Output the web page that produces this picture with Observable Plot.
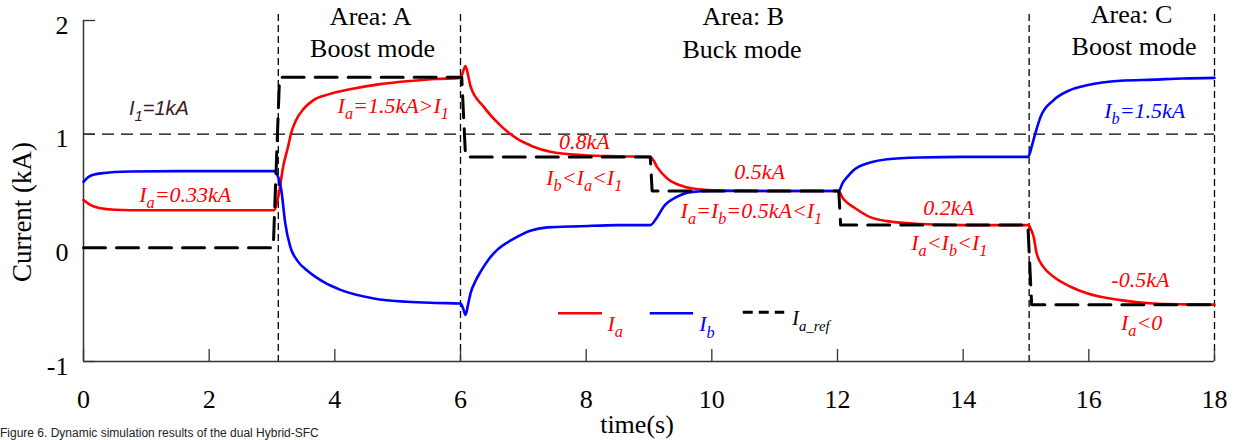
<!DOCTYPE html>
<html><head><meta charset="utf-8">
<script src="https://cdn.jsdelivr.net/npm/d3@7"></script>
<script src="https://cdn.jsdelivr.net/npm/@observablehq/plot@0.6"></script>
<style>
body{margin:0;background:#fff;}
#wrap{position:relative;width:1234px;height:440px;overflow:hidden;}
#cap{position:absolute;left:0;top:427px;font:12px/12px "Liberation Sans",sans-serif;color:#222;white-space:nowrap;}
</style></head><body>
<div id="wrap"><div id="chart"></div><div id="cap">Figure 6. Dynamic simulation results of the dual Hybrid-SFC</div></div>
<script>
// ---- data ----
const iaT = [0,0.1,0.25,0.5,1,2, 3.03,3.1,3.18,3.26,3.3,3.38,3.5,3.66,3.9,4.2, 4.72,5.25,5.6,6.0,6.04,6.08,6.12,6.16,6.37,6.63, 6.9,7.16,7.43,7.96,8.5,9.02,9.07,9.13,9.29,9.55, 9.8,10.08,11,12.02,12.08,12.15,12.25,12.52,12.79,13.32, 14,15.04,15.08,15.12,15.17,15.28,15.44,15.7,15.97,16.5, 17.03,17.5,18];
const iaV = [0.42,0.38,0.35,0.335,0.33,0.33, 0.33,0.45,0.72,0.9,1.0,1.12,1.22,1.3,1.35,1.39, 1.44,1.47,1.485,1.495,1.55,1.6,1.52,1.42,1.24,1.08, 0.96,0.89,0.845,0.815,0.805,0.8,0.77,0.71,0.61,0.54, 0.515,0.505,0.5,0.5,0.44,0.4,0.36,0.27,0.235,0.21, 0.2,0.2,0.16,0.1,-0.05,-0.17,-0.255,-0.34,-0.40,-0.46, -0.49,-0.497,-0.5];
const ibT = [0,0.1,0.27,0.75,1.5, 3.03,3.1,3.15,3.21,3.29, 3.4,3.56,3.82,4.09,4.62, 5.15,5.6,6.0,6.04,6.08, 6.12,6.16,6.24,6.32,6.45, 6.58,6.85,7.11,7.38,7.91, 8.5,9.02,9.13,9.23,9.45, 9.66,10,12.02,12.08,12.15, 12.25,12.52,12.79,13.32,14, 15.03,15.06,15.09,15.15,15.23, 15.44,15.71,15.97,16.5,17.03, 17.5,18];
const ibV = [0.58,0.63,0.655,0.672,0.675, 0.675,0.62,0.5,0.22,0.01, -0.11,-0.2,-0.3,-0.37,-0.445, -0.475,-0.485,-0.49,-0.53,-0.59, -0.5,-0.4,-0.29,-0.21,-0.1, -0.02,0.08,0.15,0.18,0.19, 0.2,0.2,0.27,0.36,0.45, 0.49,0.5,0.5,0.57,0.62, 0.68,0.75,0.78,0.795,0.8, 0.8,0.83,0.89,1.01,1.15, 1.30,1.39,1.43,1.47,1.48, 1.49,1.495];
const refT = [0,3.02,3.12,6.02,6.08,9.02,9.05,12.02,12.05,15.03,15.09,18];
const refV = [0,0,1.5,1.5,0.8,0.8,0.5,0.5,0.2,0.2,-0.5,-0.5];

const xTicks = [0,2,4,6,8,10,12,14,16,18];
const yTicks = [-1,0,1,2];
const xDom = [0,18];
const yDom = [-1,2];
const areaBounds = [3.1,6,15.05,18];
const I1Level = [1];

const xLabel = "time(s)";
const yLabel = "Current (kA)";

const headers = ["Area: A","Boost mode","Area: B","Buck mode","Area: C","Boost mode"];
const headerT = [4.57,4.6,10.5,10.48,16.68,16.72];
const headerV = [1.96,1.682,1.96,1.667,1.975,1.697];

const annText = ["I_{a}=0.33kA","I_{a}=1.5kA>I_{1}","0.8kA","I_{b}<I_{a}<I_{1}","0.5kA","I_{a}=I_{b}=0.5kA<I_{1}","0.2kA","I_{a}<I_{b}<I_{1}","-0.5kA","I_{a}<0","I_{b}=1.5kA"];
const annT = [1.62,4.93,7.97,7.97,10.76,10.63,13.77,13.78,16.82,16.84,16.89];
const annV = [0.406,1.184,0.87,0.553,0.606,0.26,0.289,-0.019,-0.342,-0.723,1.14];
const annColor = ["#ff0000","#ff0000","#ff0000","#ff0000","#ff0000","#ff0000","#ff0000","#ff0000","#ff0000","#ff0000","#0000ff"];

const i1Text = ["I_{1}=1kA"];
const i1T = [1.2], i1V = [1.169];

const legendNames = ["I_{a}","I_{b}","I_{a_ref}"];
const legendColors = ["#ff0000","#0000ff","#000000"];
const legendDash = [null,null,"10,6"];
const legendWidth = [2.5,2.5,3];
const legT1 = [7.56,9.02,10.5], legT2 = [8.26,9.71,11.16], legLineV = [-0.576,-0.576,-0.567];
const legLabT = [8.34,9.8,11.28], legLabV = [-0.73,-0.735,-0.679], legFont = [22,22,20];

// ---- tables ----
const ia = iaT.map((t,i)=>({t, v: iaV[i]}));
const ib = ibT.map((t,i)=>({t, v: ibV[i]}));
const ref = refT.map((t,i)=>({t, v: refV[i]}));

const serif = '"Liberation Serif","Times New Roman",serif';
const axisColor = "#333";

const legendMarks = legendNames.map((n,i)=>Plot.ruleY([n], {
  y: () => legLineV[i], x1: () => legT1[i], x2: () => legT2[i],
  stroke: legendColors[i], strokeWidth: legendWidth[i], strokeDasharray: legendDash[i] || undefined
}));

const plot = Plot.plot({
  width: 1234, height: 440,
  marginLeft: 83, marginRight: 20, marginTop: 20, marginBottom: 79,
  x: {domain: xDom}, y: {domain: yDom},
  color: {type: "identity"},
  style: {fontFamily: serif, fontSize: "26px", background: "white", color: "#000"},
  marks: [
    Plot.ruleY(I1Level, {y: d=>d, stroke: "#000", strokeWidth: 1.2, strokeDasharray: "12,7"}),
    Plot.ruleX(areaBounds, {x: d=>d, stroke: "#000", strokeWidth: 1.3, strokeDasharray: "7,4", insetTop: -6}),
    Plot.ruleX([xDom[0]], {x: d=>d, stroke: axisColor, strokeWidth: 1.5}),
    Plot.ruleY([yDom[0]], {y: d=>d, stroke: axisColor, strokeWidth: 1.5}),
    Plot.ruleX(xTicks, {x: d=>d, y1: yDom[0], y2: yDom[0], insetTop: -12, stroke: axisColor, strokeWidth: 1.3}),
    Plot.ruleY(yTicks, {y: d=>d, x1: xDom[0], x2: xDom[0], insetRight: -12, stroke: axisColor, strokeWidth: 1.3}),
    Plot.line(ia, {x: "t", y: "v", stroke: "#ff0000", strokeWidth: 2.6, curve: "monotone-x"}),
    Plot.line(ib, {x: "t", y: "v", stroke: "#0000ff", strokeWidth: 2.6, curve: "monotone-x"}),
    Plot.line(ref, {x: "t", y: "v", stroke: "#000", strokeWidth: 3, strokeDasharray: "22,11"}),
    Plot.axisX({ticks: xTicks, tickSize: 0, tickPadding: 28, fontSize: 26, label: null, tickFormat: d=>String(d)}),
    Plot.axisY({ticks: yTicks, tickSize: 0, tickPadding: 15, fontSize: 26, dy: 5, label: null, tickFormat: d=> d<0 ? "-"+Math.abs(d) : String(d)}),
    Plot.text([xLabel], {frameAnchor: "bottom", text: d=>d, textAnchor: "middle", dx: -12, dy: 71, lineAnchor: "bottom", fontSize: 26}),
    Plot.text([yLabel], {frameAnchor: "left", text: d=>d, textAnchor: "middle", lineAnchor: "middle", rotate: -90, dx: -61, dy: 21, fontSize: 27}),
    Plot.text(headers, {x: headerT, y: headerV, text: d=>d, lineAnchor: "bottom", fontSize: 26, fill: "#000"}),
    Plot.text(annText, {x: annT, y: annV, text: d=>d, fill: annColor, lineAnchor: "bottom", fontSize: 22, fontStyle: "italic"}),
    Plot.text(i1Text, {x: i1T, y: i1V, text: d=>d, fill: "#3a1c1c", lineAnchor: "bottom", fontSize: 20, fontStyle: "italic", fontFamily: '"Liberation Sans",Arial,sans-serif'}),
    ...legendMarks,
    Plot.text(legendNames, {x: legLabT, y: legLabV, text: d=>d, fill: legendColors, textAnchor: "start", lineAnchor: "bottom", fontSize: (d,i)=>legFont[i], fontStyle: "italic"})
  ]
});
document.getElementById("chart").appendChild(plot);

// subscripts: I_{a} -> I with lowered smaller a
plot.querySelectorAll("text").forEach(el=>{
  const s = el.textContent;
  if (!s.includes("_{")) return;
  const fs = parseFloat(getComputedStyle(el).fontSize) || 22;
  const shift = fs*0.28, small = fs*0.74;
  el.textContent = "";
  const parts = s.split(/(_\{[^}]*\})/).filter(p=>p.length);
  let lowered = false;
  for (const p of parts) {
    const ts = document.createElementNS("http://www.w3.org/2000/svg","tspan");
    if (p.startsWith("_{")) {
      ts.textContent = p.slice(2,-1);
      ts.setAttribute("font-size", small);
      if (!lowered) ts.setAttribute("dy", shift);
      lowered = true;
    } else {
      ts.textContent = p;
      if (lowered) { ts.setAttribute("dy", -shift); lowered = false; }
    }
    el.appendChild(ts);
  }
});
</script>
</body></html>
